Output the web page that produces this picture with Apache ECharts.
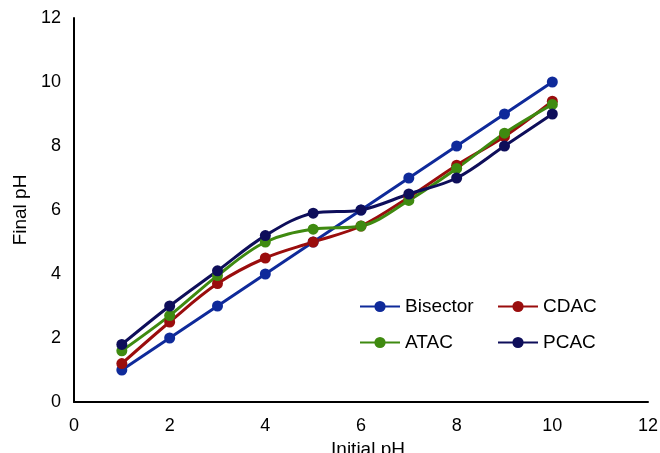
<!DOCTYPE html>
<html><head><meta charset="utf-8">
<script src="https://cdn.jsdelivr.net/npm/echarts@6/dist/echarts.min.js"></script>
<style>html,body{margin:0;padding:0;background:#fff}#c{width:660px;height:453px}</style>
</head><body><div id="c"></div>
<script>
const initialPH = [1,2,3,4,5,6,7,8,9,10];
const bisector = [1,2,3,4,5,6,7,8,9,10];
const cdac = [1.2,2.5,3.7,4.5,5.0,5.5,6.4,7.4,8.3,9.4];
const atac = [1.6,2.7,3.95,5.0,5.4,5.5,6.3,7.3,8.4,9.3];
const pcac = [1.8,3.0,4.1,5.2,5.9,6.0,6.5,7.0,8.0,9.0];

const font = 'Liberation Sans, Arial, Helvetica, sans-serif';
function pts(ys){ return initialPH.map((x,i)=>[x, ys[i]]); }
function ser(name, ys, color, smooth){
  return {name, type:'line', data:pts(ys), smooth: smooth, symbol:'circle', symbolSize:11,
    lineStyle:{color, width:3}, itemStyle:{color}, z: 2};
}
const chart = echarts.init(document.getElementById('c'));
chart.setOption({
  animation:false,
  grid:{left:74, right:12, top:18, bottom:51, containLabel:false, outerBoundsMode:'none'},
  xAxis:{type:'value', min:0, max:12, interval:2, name:'Initial pH', nameLocation:'middle', nameGap:32,
    nameTextStyle:{fontFamily:font, fontSize:19, color:'#000', padding:[0,0,0,14]},
    axisLine:{show:true, lineStyle:{color:'#000', width:2}}, axisTick:{show:false}, splitLine:{show:false},
    axisLabel:{fontFamily:font, fontSize:18, color:'#000', margin:15}},
  yAxis:{type:'value', min:0, max:12, interval:2, name:'Final pH', nameLocation:'middle', nameGap:44,
    nameTextStyle:{fontFamily:font, fontSize:19, color:'#000'},
    axisLine:{show:true, lineStyle:{color:'#000', width:2}}, axisTick:{show:false}, splitLine:{show:false},
    axisLabel:{fontFamily:font, fontSize:18, color:'#000', margin:13}},
  legend:[
    {data:['Bisector','ATAC'], orient:'vertical', left:354, top:292, itemWidth:40, itemHeight:14, itemGap:17,
      textStyle:{fontFamily:font, fontSize:19, color:'#000'}},
    {data:['CDAC','PCAC'], orient:'vertical', left:492, top:292, itemWidth:40, itemHeight:14, itemGap:17,
      textStyle:{fontFamily:font, fontSize:19, color:'#000'}}
  ],
  series:[
    ser('Bisector', bisector, '#0f2a9a', false),
    ser('CDAC', cdac, '#9a0d0d', 0.35),
    ser('ATAC', atac, '#3f8a10', 0.35),
    ser('PCAC', pcac, '#0e0e5a', 0.35)
  ]
});
</script></body></html>
